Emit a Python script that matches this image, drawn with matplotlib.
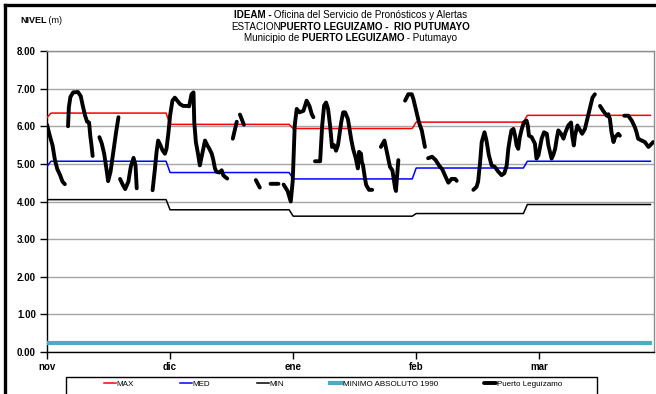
import numpy as np
import matplotlib
matplotlib.use("Agg")
import matplotlib.pyplot as plt
from matplotlib.lines import Line2D
from matplotlib.patches import Rectangle

plt.rcParams['font.family'] = ['Liberation Sans', 'DejaVu Sans']

# ---------------- data ----------------
# category index 0 = 31 oct, then daily to end of March
dias_mes = [1, 30, 31, 31, 28, 32]          # oct(last day), nov, dic, ene, feb, mar
nivel_max = [6.23, 6.35, 6.05, 5.94, 6.11, 6.29]
nivel_med = [4.93, 5.07, 4.77, 4.60, 4.89, 5.07]
nivel_min = [4.05, 4.05, 3.78, 3.61, 3.68, 3.92]
minimo_absoluto_1990 = 0.25

tick_dias = [0, 31, 62, 93, 124]
tick_labels = ['nov', 'dic', 'ene', 'feb', 'mar']
y_ticks = [0, 1, 2, 3, 4, 5, 6, 7, 8]

nan = np.nan
# observed level, Puerto Leguizamo (day index, level in m); nan = gap
obs_dia = [
    0.0, 0.8, 1.4, 2.0, 2.6, 3.3, 3.9, 4.5, nan,
    5.3, 5.5, 5.9, 6.6, 7.8, 8.5, 9.0, 9.6, 10.1, 10.6, 10.9, 11.2, 11.5, nan,
    13.2, 13.8, 14.4, 14.9, 15.4, 16.0, 16.7, 17.4, 18.0, nan,
    18.4, 19.1, 19.7, 20.5, 21.1, 21.8, 22.3, 22.6, nan,
    26.6, 27.2, 27.6, 28.0, 28.6, 29.1, 29.7, 30.1, 30.6, 31.0, 31.6, 32.2, 32.8,
    33.5, 34.3, 35.2, 35.8, 36.4, 36.9, 37.1, 37.5, 38.1, 38.5, 39.2, 39.8, 40.4,
    40.9, 41.5, 41.9, 42.3, 42.7, 43.4, 44.0, 44.4, 44.8, 45.4, nan,
    46.8, 47.8, nan,
    48.6, 49.6, nan,
    52.6, 53.6, nan,
    56.3, 58.3, nan,
    59.6, 60.6, 61.4, 61.9, 62.4, 62.9, 63.6, 64.6, 65.4, 66.1, 66.7, 67.1, nan,
    67.5, 68.8, 69.3, 69.8, 70.3, 70.8, 71.3, 71.8, 72.3, 72.8, 73.3, 74.1, 74.6,
    75.1, 75.8, 76.6, 77.1, 77.8, 78.3, 78.6, 79.1, 79.3, 79.6, 80.1, 80.4, 81.1, 81.9, nan,
    84.1, 85.0, 85.6, 86.4, 87.0, 87.7, 87.9, 88.5, nan,
    90.2, 91.0, 91.9, 92.3, 92.7, 93.1, 93.7, 94.4, 94.8, 95.2, nan,
    96.0, 97.0, 97.9, 98.8, 99.6, 100.3, 101.1, 101.9, 102.8, 103.2, nan,
    107.4, 108.2, 108.6, 109.1, 109.5, 110.2, 110.7, 111.3, 112.0, 112.8, 113.7, 114.5,
    115.2, 115.8, 116.2, 116.6, 117.0, 117.5, 117.9, 118.3, 118.7, 119.1, 119.6, 120.1,
    120.8, 121.1, 121.4, 122.1, 122.5, 122.9, 123.3, 123.8, 124.2, 124.6, 125.2, 125.9,
    126.3, 126.7, 127.1, 127.5, 128.0, 128.4, 128.8, 129.5, 130.1, 130.6, 131.3, 132.0,
    132.3, 132.7, 133.0, 133.6, 134.3, 134.8, 135.5, 136.2, 136.8, 137.4, 138.0, nan,
    139.3, 140.1, 141.0, 141.4, 141.8, 142.2, 142.7, 143.1, 143.9, 144.3, nan,
    145.4, 146.4, 147.3, 148.1, 148.5, 148.9, 149.8, 150.6, 151.5, 151.9, 152.7,
]
obs_nivel = [
    6.04, 5.71, 5.49, 5.10, 4.86, 4.70, 4.53, 4.46, nan,
    6.00, 6.50, 6.78, 6.90, 6.91, 6.80, 6.55, 6.28, 6.12, 6.10, 5.75, 5.50, 5.21, nan,
    5.71, 5.54, 5.27, 4.92, 4.54, 4.79, 5.32, 5.84, 6.24, nan,
    4.60, 4.44, 4.33, 4.53, 4.92, 5.16, 4.96, 4.35, nan,
    4.30, 4.88, 5.32, 5.62, 5.49, 5.36, 5.27, 5.40, 5.84, 6.28, 6.68, 6.76, 6.68,
    6.59, 6.54, 6.54, 6.53, 6.85, 6.90, 6.10, 5.58, 5.23, 4.96, 5.32, 5.62, 5.49,
    5.40, 5.27, 5.10, 4.88, 4.79, 4.77, 4.83, 4.70, 4.66, 4.61, nan,
    5.67, 6.12, nan,
    6.31, 6.04, nan,
    4.57, 4.37, nan,
    4.47, 4.47, nan,
    4.45, 4.28, 4.00, 4.55, 6.02, 6.46, 6.37, 6.41, 6.68, 6.54, 6.32, 6.24, nan,
    5.07, 5.07, 6.00, 6.55, 6.63, 6.46, 6.02, 5.45, 5.50, 5.35, 5.50, 6.10, 6.37,
    6.37, 6.19, 5.67, 5.40, 5.14, 4.88, 5.32, 5.27, 5.05, 4.96, 4.61, 4.44, 4.31, 4.31, nan,
    5.45, 5.62, 5.32, 4.92, 4.83, 4.35, 4.28, 5.10, nan,
    6.68, 6.85, 6.85, 6.72, 6.54, 6.37, 6.10, 5.89, 5.67, 5.45, nan,
    5.15, 5.19, 5.10, 4.95, 4.85, 4.68, 4.50, 4.60, 4.60, 4.55, nan,
    4.31, 4.39, 4.53, 5.05, 5.58, 5.84, 5.62, 5.23, 4.96, 4.92, 4.79, 4.70,
    4.75, 4.96, 5.40, 5.67, 5.89, 5.93, 5.75, 5.49, 5.40, 5.71, 5.93, 6.10,
    6.15, 6.02, 5.75, 5.71, 5.62, 5.54, 5.14, 5.23, 5.45, 5.67, 5.84, 5.80,
    5.49, 5.32, 5.14, 5.23, 5.40, 5.67, 5.89, 5.80, 5.67, 5.84, 6.02, 6.10,
    5.75, 5.49, 5.75, 6.02, 5.89, 5.80, 5.93, 6.24, 6.50, 6.76, 6.85, nan,
    6.54, 6.41, 6.28, 6.32, 6.19, 5.84, 5.58, 5.71, 5.80, 5.75, nan,
    6.28, 6.28, 6.15, 5.97, 5.84, 5.67, 5.62, 5.58, 5.45, 5.49, 5.58,
]

# ---------------- figure ----------------
W, H = 656, 394
fig = plt.figure(figsize=(W / 100, H / 100), dpi=100)
ax = fig.add_axes([47 / W, 1 - 352 / H, (654 - 47) / W, (352 - 51) / H])

dias = np.arange(sum(dias_mes))
serie_max = np.repeat(nivel_max, dias_mes)
serie_med = np.repeat(nivel_med, dias_mes)
serie_min = np.repeat(nivel_min, dias_mes)
serie_abs = np.full(len(dias), minimo_absoluto_1990)

ax.plot(dias, serie_max, color='#FF0000', lw=1.1, label='MAX', zorder=3)
ax.plot(dias, serie_med, color='#0000FF', lw=1.1, label='MED', zorder=3)
ax.plot(dias, serie_min, color='black', lw=1.1, label='MIN', zorder=3)
ax.plot(dias, serie_abs, color='#4BACC6', lw=3.0, label='MINIMO ABSOLUTO 1990', zorder=3)
ax.plot(obs_dia, obs_nivel, color='black', lw=2.8, label='Puerto Leguízamo',
        solid_capstyle='round', solid_joinstyle='round', zorder=4)

ax.set_xlim(0, 152.9)
ax.set_ylim(0, 8)
ax.set_yticks(y_ticks)
ax.set_yticklabels([f'{v:.2f}' for v in y_ticks])
ax.set_xticks(tick_dias)
ax.set_xticklabels(tick_labels)
ax.yaxis.grid(True, color='#A6A6A6', lw=1.0, zorder=1)
# small breaks in the gridlines at the month ticks (Excel style)
for t in tick_dias[1:]:
    ax.axvline(t, color='white', lw=1.0, zorder=1.5)

for s in ['top', 'right']:
    ax.spines[s].set_color('#8C8C8C')
    ax.spines[s].set_linewidth(1.0)
for s in ['left', 'bottom']:
    ax.spines[s].set_color('black')
    ax.spines[s].set_linewidth(1.0)

ax.tick_params(axis='both', direction='out', length=5, width=1, color='black',
               labelsize=7)
ax.tick_params(axis='y', pad=3)
ax.tick_params(axis='x', pad=2)
for lab in ax.get_xticklabels() + ax.get_yticklabels():
    lab.set_fontweight('bold')

# ---------------- mixed-weight header text ----------------
renderer = fig.canvas.get_renderer()


def linea_mixta(partes, x_px, y_px, size, centrar=True):
    textos = [fig.text(0, 1 - y_px / H, s, fontsize=size, fontweight=w,
                       va='baseline', ha='left') for s, w in partes]
    anchos = [t.get_window_extent(renderer).width for t in textos]
    x = x_px - (sum(anchos) / 2 if centrar else 0)
    for t, a in zip(textos, anchos):
        t.set_x(x / W)
        x += a


xc = (47 + 654) / 2
linea_mixta([('IDEAM -', 'bold'), (' Oficina del Servicio de Pronósticos y Alertas', 'normal')],
            xc, 18, 7.1)
linea_mixta([('ESTACION', 'normal'), ('PUERTO LEGUIZAMO -  RIO PUTUMAYO', 'bold')],
            xc, 29.5, 7.1)
linea_mixta([('Municipio de ', 'normal'), ('PUERTO LEGUIZAMO', 'bold'), (' - Putumayo', 'normal')],
            xc, 41, 7.1)
linea_mixta([('NIVEL', 'bold'), (' (m)', 'normal')], 20, 23, 6.5, centrar=False)

# ---------------- outer border (left & top) ----------------
fig.add_artist(Line2D([5 / W, 5 / W], [0, 1 - 5 / H], color='black', lw=2.4,
                      transform=fig.transFigure, solid_capstyle='projecting'))
fig.add_artist(Line2D([5 / W, 1], [1 - 5 / H, 1 - 5 / H], color='black', lw=2.4,
                      transform=fig.transFigure, solid_capstyle='projecting'))

# ---------------- legend ----------------
fig.add_artist(Rectangle((66 / W, -0.05), (597 - 66) / W, 1 - 377 / H + 0.05,
                         transform=fig.transFigure, facecolor='white',
                         edgecolor='black', lw=1.0))
leg = fig.legend(loc='upper left',
                 bbox_to_anchor=(100 / W, 1 - 377 / H, (566 - 100) / W, 0.001),
                 mode='expand', ncol=5, fontsize=5.8, frameon=False,
                 handlelength=1.5, handletextpad=0.1, borderaxespad=0,
                 borderpad=0.45, columnspacing=1.0)

fig.savefig('out.png', dpi=100)
